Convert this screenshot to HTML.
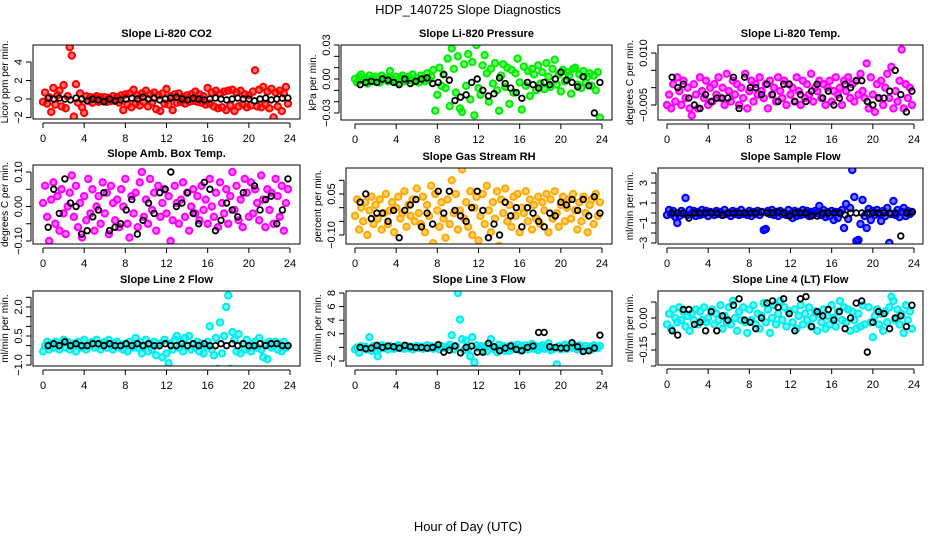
<!DOCTYPE html>
<html><head><meta charset="utf-8"><style>
html,body{margin:0;padding:0;background:#fff;}
svg{display:block;font-family:"Liberation Sans",sans-serif;}
</style></head><body>
<svg id="fig" width="936" height="540" viewBox="0 0 936 540">
<text x="468" y="14" text-anchor="middle" font-size="13">HDP_140725  Slope Diagnostics</text>
<text x="468" y="531" text-anchor="middle" font-size="13">Hour of Day (UTC)</text>
</svg>
<script>
// ---- data (colored = all slopes, black = selected slopes), values scaled by "scale" ----
const hourTicks = [0,4,8,12,16,20,24];
const co2Vals = [-0.3,0.7,-0.5,0.2,-1.4,1.2,-0.6,0.4,0.9,-0.8,1.5,-1.0,0.3,5.6,4.7,-1.9,1.6,-0.4,0.6,-0.9,-1.5,0.3,-0.2,0.2,-0.4,0.1,0.3,-0.3,0.2,-0.1,0.2,-0.3,0.1,-0.2,0.3,-0.2,0.2,-0.4,0.4,-1.2,0.5,-0.6,0.6,-0.9,1.0,-0.5,0.4,-0.7,0.6,-0.3,0.9,-0.8,0.5,-0.4,0.7,-1.1,0.4,-1.3,0.6,-0.5,1.1,-0.6,0.3,-1.2,0.5,-0.4,0.6,-0.3,0.2,-0.5,0.4,-0.3,0.5,-0.2,0.8,-0.3,0.5,-0.4,0.3,-0.6,1.2,-0.5,0.7,-0.8,0.9,-1.0,0.6,-0.9,0.8,-1.2,0.9,-0.7,1.0,-1.3,0.7,-0.8,0.9,-0.6,0.5,-0.9,0.4,-0.7,0.8,3.1,-0.8,1.0,-0.9,1.3,-0.6,0.8,-1.0,1.1,-2.0,0.7,-0.8,0.9,-1.3,0.6,1.3,-0.5];
const co2Sel = [0.1,0,0.1,0,-0.1,0.1,0,-0.2,0,-0.1,-0.3,0,-0.2,-0.1,0,0.1,0,0.2,0,0.1,-0.1,0,0.1,0.2,0,-0.1,0.1,0,-0.1,0,0.1,0,-0.1,0,0.1,0,0,-0.2,0,0.1,-0.1,0,0.1,0.1];
const presVals = [0,-3,2,4,-1,1,-4,3,0,-2,2,1,-3,3,0,1,-2,7,0,-1,2,-3,1,3,-2,0,2,-1,4,-2,1,-3,3,0,-2,5,-1,2,8,-28,-14,10,-6,4,-8,18,-24,27,9,-12,20,-26,-29,13,-6,22,-18,15,-32,30,-8,-14,12,21,5,-20,9,-4,14,-10,-28,3,13,-7,10,-22,8,-12,5,18,-3,-27,11,-6,7,-15,9,4,-10,12,-4,6,-9,14,2,-7,9,17,-5,4,-11,8,-2,6,3,-13,9,10,-5,4,-8,7,-3,2,5,-6,3,-10,6,-34];
const presSel = [-5,-3,-2,-3,0,-1,-3,-5,0,-4,-2,0,1,-4,-3,4,-1,-19,-16,-14,-3,0,-10,-15,-13,1,-4,-8,-12,-17,-3,-5,-8,-3,-5,0,6,-1,-3,-7,2,-6,-30,-3];
const tempVals = [-5,-2,-6,1,-4,3,-1,-5,2,-3,0,-6,-8,1,-2,-6,3,-1,-3,2,-5,0,-4,1,-2,3,-3,0,-5,4,-1,-4,2,-2,1,-5,0,-3,4,-6,-1,2,-4,1,-2,3,-1,-3,1,-6,2,-2,0,-4,3,-1,-3,2,-5,1,-2,0,-4,3,-1,-5,2,-3,1,-2,4,-4,0,-1,2,-3,1,-5,0,2,-4,-1,3,-2,0,-5,2,-1,3,-3,1,-4,2,-2,4,-1,-3,7,-6,3,-2,-7,1,-3,2,-5,0,4,-3,6,-6,-1,-4,2,11,-6,1,-3,0,-5];
const tempSel = [3,0,1,-3,-5,-6,-2,-4,-3,-3,-3,3,-6,3,0,0,-2,1,-2,-4,1,1,-4,-2,-4,-1,1,-3,-1,-5,-3,1,0,2,2,-4,-5,-3,-3,-1,5,-2,-7,-1];
const boxVals = [1,6,-3,-10,2,7,-5,3,-7,5,-2,-8,0,4,9,-3,6,-6,1,-9,3,-4,8,-2,5,-7,0,3,-5,7,-2,4,-8,6,1,-4,2,-6,5,0,8,-5,-9,3,-2,4,-6,7,10,-3,2,-5,8,-1,4,-7,6,-3,1,5,-2,3,-10,-4,6,1,-5,2,7,-3,4,-7,0,5,-2,3,-4,6,-1,2,-5,8,0,-3,4,-6,7,1,-2,5,-5,3,10,-1,6,-4,2,-6,8,4,-3,7,-2,5,1,-4,9,2,-6,5,-1,4,-5,8,3,-3,6,-7,1,5];
const boxSel = [-6,5,-2,8,1,0,-8,-7,-3,-1,4,-7,-6,-5,-1,2,-8,-4,1,-2,4,5,10,0,1,4,-2,-5,7,5,-7,-4,1,-1,-3,4,-14,6,-1,2,3,-5,-1,8];
const rhVals = [-3,3,-8,0,-5,2,-10,-1,4,-6,1,-4,3,-8,-2,5,-6,-1,2,-9,0,4,-4,-2,6,-7,1,-3,3,-5,7,-2,-6,4,-9,1,-3,8,-13,5,-1,-7,2,-4,-11,3,-6,10,-2,5,-8,-1,14,-4,2,-7,6,-10,0,4,-12,-3,5,-6,8,-1,-9,2,-4,6,-14,3,-2,7,-5,1,-7,4,-3,5,-9,0,-2,6,-5,3,-8,1,-4,4,-6,2,-1,5,-9,3,-4,6,-2,-7,1,4,-5,0,3,-4,5,-1,-8,2,-5,4,-2,-9,1,3,-6,5,-3,2];
const rhSel = [2,5,-4,-2,-2,-5,-1,-11,-1,1,3,-7,-2,-6,6,-2,6,-1,-3,-5,0,6,-1,-11,-6,-10,2,-3,0,-7,0,-2,-5,-7,-2,-3,2,1,3,-1,3,-3,4,-2];
const sampVals = [-2,3,-1,2,-4,-10,-3,2,-1,15,-2,3,-1,2,-3,1,-2,3,-1,2,-3,1,0,-2,2,-1,1,-2,3,-1,0,-3,2,-1,1,-2,3,-1,0,-2,2,-3,1,-1,2,-2,1,-17,-16,2,-1,3,-2,1,-3,2,-1,0,-2,3,-1,-5,2,-3,1,-2,3,-1,2,-3,1,-1,2,0,7,-2,3,-4,1,-3,2,-7,1,-5,0,3,-15,9,-6,5,43,16,-28,-27,-11,13,-3,-15,4,-7,2,-2,3,-1,-8,2,-3,5,-30,-1,12,-2,3,-4,1,5,-3,2,-1,1];
const sampSel = [0,0,0,-5,0,0,0,0,0,-2,0,0,0,0,0,0,1,0,0,1,0,-3,0,0,0,-3,-3,0,0,0,0,-2,0,0,0,0,0,0,0,0,0,-23,0,1];
const l2Vals = [-3,0,2,-2,1,-1,2,0,-2,1,3,-1,2,-2,0,1,-3,2,0,-1,3,-2,1,0,2,-1,3,0,-2,1,2,-1,3,0,-2,1,2,-1,0,-2,1,-3,2,0,-1,4,-1,2,-4,0,3,-3,1,-2,2,-5,0,1,-6,3,-4,-9,1,-2,3,5,-1,2,-3,4,0,5,-2,1,-1,2,-3,1,-4,0,2,10,-2,-5,4,-12,12,-4,5,20,26,-12,7,3,-3,6,-4,1,-2,3,-1,-3,0,2,-1,4,-2,-6,1,-7,2,-1,0,2,-2,1,-3,2,-1,0];
const l2Sel = [0,1,0,2,0,1,0,0,1,1,0,1,0,0,1,0,1,0,1,0,0,1,0,0,1,0,1,0,1,0,0,1,0,1,0,1,0,0,1,0,1,1,0,0];
const l3Vals = [-3,0,-8,2,-1,1,-3,15,-5,2,0,-13,-2,3,-1,1,-3,2,0,-2,1,3,-1,0,-2,2,-1,1,-3,0,2,-1,1,-2,0,3,-1,2,-2,0,1,-3,2,0,-1,1,4,18,-3,2,80,41,12,-4,10,-2,-13,15,-22,3,-1,2,-4,1,-6,3,12,-2,0,-7,4,-3,2,-5,1,-5,3,-2,0,4,-4,2,-1,3,-3,1,5,-2,2,-4,0,3,-2,1,6,-4,-3,-1,-25,2,-3,1,4,-2,0,5,-1,2,-3,3,0,-4,2,-2,1,-3,3,0,-1,2];
const l3Sel = [0,-2,-1,3,0,2,1,-1,3,1,0,0,-1,0,4,-7,-4,2,-8,0,2,-7,-7,6,1,-5,-1,2,-3,-5,0,2,22,22,1,0,-1,-1,7,1,-6,-5,-1,18];
const l4Vals = [-3,2,-5,4,0,-2,5,-1,3,-4,1,-6,2,-1,4,-3,3,-1,5,-2,0,-24,4,-3,2,-1,6,-5,1,-2,5,-3,8,0,-6,3,-1,5,-2,-7,4,-1,6,-3,2,-5,1,7,-2,4,-7,0,6,-3,2,8,-1,5,-4,3,-41,-2,4,-5,1,6,-3,2,-1,5,-4,0,3,-6,2,-2,4,-5,1,-3,6,0,-4,3,8,-1,5,-2,4,-6,3,-1,-5,2,-4,6,-3,-44,5,-2,-9,1,4,-3,2,-6,3,-2,5,10,8,-1,4,-3,2,-7,6,-1,3,-5];
const l4Sel = [-6,-8,4,4,-3,-2,-6,3,-6,1,-1,6,9,-1,-2,-5,0,7,8,5,9,2,-6,9,10,-4,3,1,4,-1,3,-5,0,7,8,-16,-2,3,2,-5,0,1,-4,6];

const panels = [
 {name:'co2',title:'Slope Li-820 CO2',ylab:'Licor ppm per min.',color:'#ff0000',vals:co2Vals,sel:co2Sel,scale:1,
  L:33,R:300,T:45,B:119,x0:43,x24:290,v1:4,p1:62,v2:0,p2:99,ticks:[-2,0,2,4],labels:[-2,0,2,4],fmt:0},
 {name:'pressure',title:'Slope Li-820 Pressure',ylab:'kPa per min.',color:'#00ee00',vals:presVals,sel:presSel,scale:0.001,
  L:341,R:612,T:45,B:120,x0:355,x24:602,v1:0.03,p1:45,v2:0,p2:79,ticks:[-0.03,-0.02,-0.01,0,0.01,0.02,0.03],labels:[-0.03,0,0.03],fmt:2},
 {name:'temp',title:'Slope Li-820 Temp.',ylab:'degrees C per min.',color:'#ff00ff',vals:tempVals,sel:tempSel,scale:0.001,
  L:658,R:923,T:45,B:120,x0:667,x24:914,v1:0.010,p1:53,v2:-0.005,p2:105,ticks:[-0.005,0,0.005,0.010],labels:[-0.005,0.010],fmt:3},
 {name:'box-temp',title:'Slope Amb. Box Temp.',ylab:'degrees C per min.',color:'#ff00ff',vals:boxVals,sel:boxSel,scale:0.01,
  L:33,R:300,T:165,B:244,x0:43,x24:290,v1:0.10,p1:172,v2:-0.10,p2:241,ticks:[-0.1,-0.05,0,0.05,0.1],labels:[-0.1,0,0.1],fmt:2},
 {name:'gas-rh',title:'Slope Gas Stream RH',ylab:'percent per min.',color:'#ffaa00',vals:rhVals,sel:rhSel,scale:0.01,
  L:346,R:612,T:168,B:244,x0:355,x24:602,v1:0.05,p1:194,v2:-0.10,p2:235,ticks:[-0.1,-0.05,0,0.05,0.1],labels:[-0.1,0.05],fmt:2},
 {name:'sample-flow',title:'Slope Sample Flow',ylab:'ml/min per min.',color:'#0000ff',vals:sampVals,sel:sampSel,scale:0.1,
  L:658,R:923,T:168,B:244,x0:667,x24:914,v1:3,p1:183,v2:-3,p2:243,ticks:[-3,-2,-1,0,1,2,3,4],labels:[-3,-1,1,3],fmt:0},
 {name:'line2-flow',title:'Slope Line 2 Flow',ylab:'ml/min per min.',color:'#00eeee',vals:l2Vals,sel:l2Sel,scale:0.1,
  L:33,R:300,T:291,B:366,x0:43,x24:290,v1:2.0,p1:307,v2:-1.0,p2:365,ticks:[-1,-0.5,0,0.5,1,1.5,2,2.5],labels:[-1,0.5,2],fmt:1},
 {name:'line3-flow',title:'Slope Line 3 Flow',ylab:'ml/min per min.',color:'#00eeee',vals:l3Vals,sel:l3Sel,scale:0.1,
  L:346,R:612,T:291,B:366,x0:355,x24:602,v1:8,p1:293,v2:-2,p2:361,ticks:[-2,0,2,4,6,8],labels:[-2,2,4,6,8],fmt:0},
 {name:'line4-flow',title:'Slope Line 4 (LT) Flow',ylab:'ml/min per min.',color:'#00eeee',vals:l4Vals,sel:l4Sel,scale:0.01,
  L:658,R:923,T:291,B:365,x0:667,x24:914,v1:0,p1:318,v2:-0.15,p2:350,ticks:[-0.225,-0.15,-0.075,0,0.075],labels:[-0.15,0],fmt:2}
];

const NS='http://www.w3.org/2000/svg';
const svg=document.getElementById('fig');
function mk(tag,attrs,parent){const e=document.createElementNS(NS,tag);for(const k in attrs)e.setAttribute(k,attrs[k]);(parent||svg).appendChild(e);return e;}

panels.forEach(p=>{
  const g=mk('g',{});
  
  
  const xs=h=>p.x0+(p.x24-p.x0)*h/24;
  const ys=v=>p.p2+(v-p.v2)*(p.p1-p.p2)/(p.v1-p.v2);
  const t=mk('text',{x:(p.L+p.R)/2,y:p.T-8,'text-anchor':'middle','font-size':11,'font-weight':'bold'},g);
  t.textContent=p.title;
  
  
  const ax=p.B+4;
  const xl=mk('line',{x1:xs(0),x2:xs(24),y1:ax,y2:ax,stroke:'#000'},g);
  
  
  hourTicks.forEach(h=>{
    mk('line',{x1:xs(h),x2:xs(h),y1:ax,y2:ax+5,stroke:'#000'},g);
    const tl=mk('text',{x:xs(h),y:ax+19,'text-anchor':'middle','font-size':11},g);
    tl.textContent=h;
    
    
  });
  const ay=p.L-2;
  const yt=p.ticks.map(ys);
  const yl=mk('line',{x1:ay,x2:ay,y1:Math.min(...yt),y2:Math.max(...yt),stroke:'#000'},g);
  
  
  p.ticks.forEach(v=>mk('line',{x1:ay,x2:ay-5,y1:ys(v),y2:ys(v),stroke:'#000'},g));
  p.labels.forEach(v=>{
    const y=ys(v), x=ay-9;
    const tl=mk('text',{x:x,y:y,'text-anchor':'middle','font-size':11,transform:`rotate(-90 ${x} ${y})`},g);
    tl.textContent=(v<0?'\u2212':'')+Math.abs(v).toFixed(p.fmt);
    
    
  });
  const yx=p.L-25, yy=(p.T+p.B)/2;
  const ylab=mk('text',{x:yx,y:yy,'text-anchor':'middle','font-size':10,transform:`rotate(-90 ${yx} ${yy})`},g);
  ylab.textContent=p.ylab;
  
  
  const cid='c'+p.name;
  const cp=mk('clipPath',{id:cid},g);
  mk('rect',{x:p.L,y:p.T,width:p.R-p.L,height:p.B-p.T},cp);
  const pts=mk('g',{'clip-path':`url(#${cid})`},g);
  const n=p.vals.length;
  p.vals.forEach((v,i)=>{
    const c=mk('circle',{cx:xs(i*24/n),cy:ys(v*p.scale),r:3.2,fill:p.color,'fill-opacity':0.55,stroke:p.color,'stroke-width':2},pts);
    
    
  });
  const m=p.sel.length;
  p.sel.forEach((v,i)=>{
    const c=mk('circle',{cx:xs(0.5+i*23.3/(m-1)),cy:ys(v*p.scale),r:2.8,fill:'none',stroke:'#000','stroke-width':1.8},pts);
    
    
  });
  const box=mk('rect',{x:p.L,y:p.T,width:p.R-p.L,height:p.B-p.T,fill:'none',stroke:'#000'},g);
  
  
});
</script>
</body></html>
